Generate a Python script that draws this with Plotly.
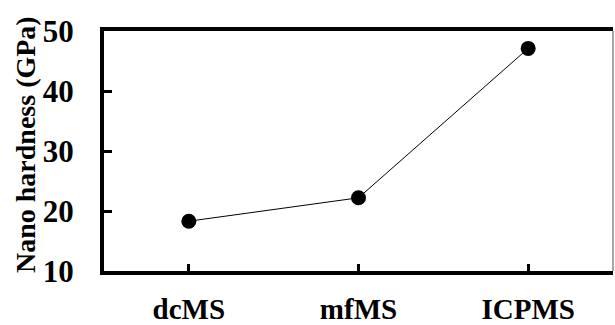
import plotly.graph_objects as go

categories = ["dcMS", "mfMS", "ICPMS"]
hardness = [18.3, 22.2, 47.1]
y_ticks = [10, 20, 30, 40, 50]

FONT = "Liberation Serif"
W, H = 615, 325
L, R, T, B = 104, 2, 31, 54

fig = go.Figure()
fig.add_trace(go.Scatter(
    x=categories, y=hardness, mode="lines+markers",
    line=dict(color="black", width=1),
    marker=dict(color="black", size=15),
    showlegend=False,
))

fig.update_layout(
    width=W, height=H,
    margin=dict(l=L, r=R, t=T, b=B, autoexpand=False),
    paper_bgcolor="white", plot_bgcolor="white",
    font=dict(family=FONT, color="black"),
    xaxis=dict(
        type="category", range=[-0.5, 2.5],
        showline=True, linecolor="black", linewidth=4, mirror=True,
        ticks="inside", ticklen=7, tickwidth=3, tickcolor="black",
        showgrid=False, zeroline=False,
        tickfont=dict(family=FONT, size=29, color="black", weight="bold"),
        ticklabelstandoff=9,
    ),
    yaxis=dict(
        range=[10, 50], tickvals=y_ticks,
        showline=True, linecolor="black", linewidth=4, mirror=False,
        ticks="inside", ticklen=8, tickwidth=3, tickcolor="black",
        showgrid=False, zeroline=False,
        tickfont=dict(family=FONT, size=31, color="black", weight="bold"),
        ticklabelstandoff=20,
    ),
    annotations=[dict(
        text="<b>Nano hardness (GPa)</b>", textangle=-90,
        xref="paper", yref="paper",
        x=(25 - L) / (W - L - R), y=(H - B - 145) / (H - T - B),
        showarrow=False, font=dict(family=FONT, size=28, color="black"),
        xanchor="center", yanchor="middle",
    )],
    shapes=[dict(
        type="line", xref="paper", yref="paper", x0=1, x1=1, y0=0, y1=1,
        line=dict(color="#888888", width=1.5),
    )],
)

fig.write_html(
    "out.html",
    config={"displayModeBar": False},
    post_script="document.body.style.margin='0';document.body.style.overflow='hidden';",
)
